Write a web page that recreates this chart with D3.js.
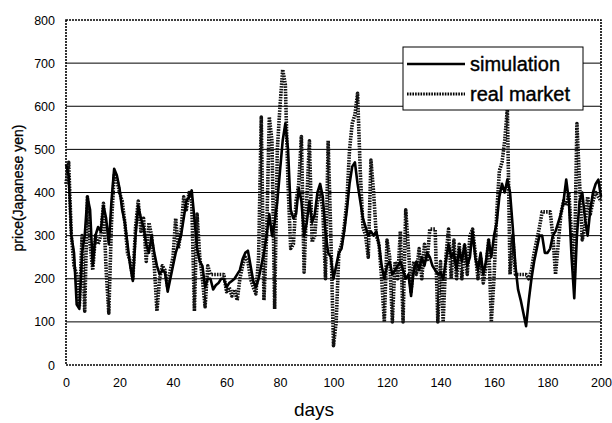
<!DOCTYPE html>
<html>
<head>
<meta charset="utf-8">
<script src="https://cdn.jsdelivr.net/npm/d3@7/dist/d3.min.js"></script>
<style>
  body { margin: 0; background: #fff; }
  svg { display: block; font-family: "Liberation Sans", Arial, sans-serif; }
  .grid line { stroke: #000; stroke-width: 1; }
  .tick text { font-size: 12.5px; fill: #000; }
</style>
</head>
<body>
<div id="chart"></div>
<script>
// days 0..200
var simulation = [
  465, 440, 300, 260, 140, 130, 260, 300, 390, 360,
  230, 300, 320, 310, 370, 340, 280, 380, 455, 440,
  410, 360, 330, 280, 230, 195, 300, 370, 340, 320,
  280, 260, 300, 260, 230, 210, 220, 215, 170, 200,
  230, 260, 280, 300, 340, 380, 390, 405, 340, 270,
  240, 230, 180, 200, 200, 175, 185, 190, 200, 200,
  180, 190, 195, 200, 210, 220, 245, 260, 265, 230,
  195, 180, 200, 230, 260, 300, 350, 300, 330, 380,
  450, 520, 560, 500, 360, 340, 350, 410, 380, 300,
  330, 380, 330, 350, 400, 420, 390, 310, 260, 250,
  200, 230, 260, 270, 310, 360, 420, 460, 470, 420,
  380, 340, 320, 300, 310, 300, 310, 280, 230, 200,
  230, 240, 210, 220, 230, 240, 220, 200, 210, 160,
  220, 240, 220, 250, 230, 260, 250, 230, 220, 210,
  215, 200, 240, 280, 250, 260, 220, 270, 240, 280,
  230, 250, 310, 250, 220, 260, 210, 240, 290, 250,
  300, 330, 390, 420, 400, 430, 400, 320, 230, 175,
  150, 120, 90, 150, 200, 240, 270, 300, 300, 260,
  260, 270, 300, 310, 330, 350, 380, 430, 380, 250,
  155, 300, 380, 400, 340, 300, 360, 400, 420, 430,
  390
];
var realMarket = [
  420, 470, 300, 230, 210, 135, 300, 125, 390, 280,
  220, 300, 280, 300, 375, 220, 120, 330, 440, 430,
  400, 380, 330, 260, 240, 200, 320, 380, 310, 340,
  240, 330, 300, 230, 125, 200, 230, 220, 180, 220,
  250, 340, 270, 310, 390, 360, 400, 380, 125, 350,
  250, 200, 135, 230, 210, 210, 210, 210, 210, 210,
  170, 180, 160, 175, 150, 200, 230, 250, 240, 200,
  180, 165, 250, 575, 150, 300, 575, 520, 130, 500,
  600, 685, 650, 420, 270, 280, 380, 420, 530, 215,
  380, 520, 285, 300, 380, 400, 360, 200, 520, 300,
  45, 100, 260, 280, 320, 380, 500, 560, 580, 630,
  450, 320, 300, 250, 475, 400, 300, 280, 200, 100,
  290, 250, 100, 240, 200, 310, 100, 360, 270, 170,
  240, 210, 270, 200, 280, 240, 315, 315, 315, 100,
  240, 100, 250, 315, 200, 290, 200, 280, 200, 280,
  210, 300, 315, 260, 200, 250, 190, 230, 290, 100,
  200, 350, 450, 470, 520, 595, 210, 300, 210, 210,
  210, 210, 210, 200, 220, 260, 290, 320, 355, 355,
  355, 355, 300, 210, 280, 350, 380, 370, 400, 300,
  200, 560, 420, 290, 320, 390, 350, 380, 400, 390,
  380
];
var yTicks = [0, 100, 200, 300, 400, 500, 600, 700, 800];
var xTicks = [0, 20, 40, 60, 80, 100, 120, 140, 160, 180, 200];
var seriesNames = ["simulation", "real market"];

var W = 612, H = 423;
var margin = { top: 20, right: 11, bottom: 58, left: 66 };
var iw = W - margin.left - margin.right,
    ih = H - margin.top - margin.bottom;

var svg = d3.select("#chart").append("svg")
    .attr("width", W)
    .attr("height", H);

var g = svg.append("g")
    .attr("transform", "translate(" + margin.left + "," + margin.top + ")");

var x = d3.scaleLinear().domain([0, 200]).range([0, iw]);
var y = d3.scaleLinear().domain([0, 800]).range([ih, 0]);

// horizontal grid lines
g.append("g").attr("class", "grid")
    .selectAll("line")
    .data(yTicks.filter(function(v) { return v > 0 && v < 800; }))
    .enter().append("line")
    .attr("x1", 0).attr("x2", iw)
    .attr("y1", function(d) { return y(d); })
    .attr("y2", function(d) { return y(d); });

// frame (dotted look)
g.append("rect")
    .attr("x", 0).attr("y", 0)
    .attr("width", iw).attr("height", ih)
    .attr("fill", "none")
    .attr("stroke", "#000")
    .attr("stroke-width", 1.6)
    .attr("stroke-dasharray", "2,1");

// axes
var yAxis = d3.axisLeft(y).tickValues(yTicks).tickSize(0).tickPadding(11);
var xAxis = d3.axisBottom(x).tickValues(xTicks).tickSize(0).tickPadding(13);

g.append("g").call(yAxis).call(function(s) { s.select(".domain").remove(); });
g.append("g").attr("transform", "translate(0," + ih + ")")
    .call(xAxis).call(function(s) { s.select(".domain").remove(); });

var line = d3.line()
    .x(function(d, i) { return x(i); })
    .y(function(d) { return y(d); });

// real market: textured dotted line
g.append("path")
    .datum(realMarket)
    .attr("fill", "none")
    .attr("stroke", "#111")
    .attr("stroke-width", 3.6)
    .attr("stroke-dasharray", "1.6,1.1")
    .attr("stroke-linejoin", "round")
    .attr("d", line);

// simulation: solid
g.append("path")
    .datum(simulation)
    .attr("fill", "none")
    .attr("stroke", "#000")
    .attr("stroke-width", 2.6)
    .attr("stroke-linejoin", "round")
    .attr("d", line);

// axis titles
svg.append("text")
    .attr("x", 314)
    .attr("y", 416)
    .attr("text-anchor", "middle")
    .style("font-size", "19px")
    .text("days");

svg.append("text")
    .attr("transform", "translate(23,188) rotate(-90)")
    .attr("text-anchor", "middle")
    .style("font-size", "14px")
    .style("stroke", "#000")
    .style("stroke-width", 0.3)
    .text("price(Japanese yen)");

// legend
var lg = svg.append("g").attr("transform", "translate(403,47)");
lg.append("rect")
    .attr("width", 180).attr("height", 63)
    .attr("fill", "#fff")
    .attr("stroke", "#000")
    .attr("stroke-width", 1);

var rows = lg.selectAll("g.row")
    .data(seriesNames)
    .enter().append("g")
    .attr("class", "row")
    .attr("transform", function(d, i) { return "translate(0," + (17 + i * 30) + ")"; });

rows.append("line")
    .attr("x1", 4).attr("x2", 62)
    .attr("stroke", "#000")
    .attr("stroke-width", function(d, i) { return i === 0 ? 2.6 : 3; })
    .attr("stroke-dasharray", function(d, i) { return i === 0 ? null : "1.6,1.1"; });

rows.append("text")
    .attr("x", 67)
    .attr("dy", "0.36em")
    .style("font-size", "20px")
    .style("stroke", "#000")
    .style("stroke-width", 0.4)
    .text(function(d) { return d; });
</script>
</body>
</html>
